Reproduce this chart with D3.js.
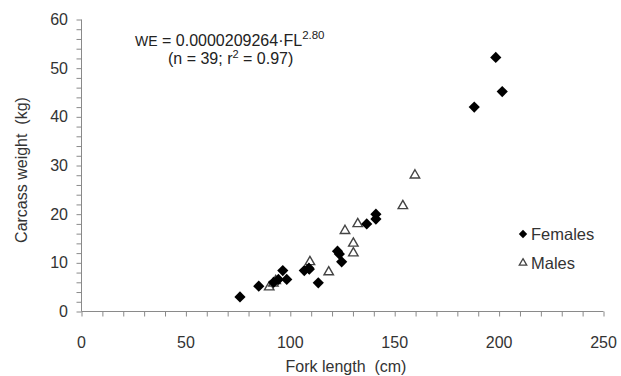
<!DOCTYPE html>
<meta charset="utf-8">
<script src="https://d3js.org/d3.v7.min.js"></script>
<style>
	body{
		margin:0;
		font-family:'Liberation Sans', Arial, sans-serif;
		background:#fff;
	}
</style>
<div id="chart"></div>
<script>
	// fork length (cm), carcass weight (kg)
	var femaleFL = [75.9,84.9,92.0,94.3,96.4,98.3,106.7,108.9,109.1,113.4,122.6,123.5,124.6,136.6,141.0,141.0,188.1,201.5,198.4]
	var femaleWE = [3.0,5.2,6.0,6.6,8.4,6.6,8.4,8.9,8.7,5.9,12.4,11.8,10.2,18.0,20.0,19.0,42.0,45.2,52.2]
	var maleFL = [89.9,91.9,93.0,109.4,118.4,126.2,130.2,130.2,132.3,153.9,159.7]
	var maleWE = [5.0,5.8,6.3,10.2,8.1,16.6,14.0,12.0,18.0,21.7,28.0]

	var xTicks = [0,50,100,150,200,250]
	var yTicks = [0,10,20,30,40,50,60]

	var w = 621
	var h = 376
	var svg = d3.select("#chart").append("svg").attr("width",w).attr("height",h)

	var x = d3.scaleLinear().domain([0,250]).range([81.5,603.5])
	var y = d3.scaleLinear().domain([0,60]).range([311.5,19.5])

	var axisColor = "#8a8a8a"
	var textColor = "#333"

	// minor ticks
	var xMinor = d3.range(0,251,10)
	var yMinor = d3.range(0,61,2)

	var xAxis = svg.append("g").attr("transform","translate(0,"+y(0)+")")
		.call(d3.axisBottom(x).tickValues(xMinor).tickSize(5).tickFormat(""))
	xAxis.selectAll("line,path").attr("stroke",axisColor)
	xAxis.select(".domain").attr("d","M"+x(0)+",0H"+x(250))

	var yAxis = svg.append("g").attr("transform","translate("+x(0)+",0)")
		.call(d3.axisLeft(y).tickValues(yMinor).tickSize(5).tickFormat(""))
	yAxis.selectAll("line,path").attr("stroke",axisColor)
	yAxis.select(".domain").attr("d","M0,"+y(0)+"V"+y(60))

	// tick labels
	svg.append("g").selectAll("text").data(xTicks).join("text")
		.attr("x",function(d){return x(d)})
		.attr("y",348)
		.attr("text-anchor","middle")
		.attr("fill",textColor)
		.style("font-size","16px")
		.text(function(d){return d})

	svg.append("g").selectAll("text").data(yTicks).join("text")
		.attr("x",68)
		.attr("y",function(d){return y(d)+5.5})
		.attr("text-anchor","end")
		.attr("fill",textColor)
		.style("font-size","16px")
		.text(function(d){return d})

	// axis titles
	svg.append("text").attr("x",346).attr("y",372).attr("text-anchor","middle")
		.attr("fill",textColor).style("font-size","16px")
		.attr("xml:space","preserve")
		.text("Fork length  (cm)")
	svg.append("text").attr("transform","translate(27,170) rotate(-90)").attr("text-anchor","middle")
		.attr("fill",textColor).style("font-size","16px")
		.attr("xml:space","preserve")
		.text("Carcass weight  (kg)")

	// equation
	var eq = svg.append("text").attr("x",135).attr("y",46).attr("fill","#222").style("font-size","16px")
	eq.append("tspan").style("font-size","14px").text("WE")
	eq.append("tspan").text(" = 0.0000209264·FL")
	eq.append("tspan").attr("dy",-7).style("font-size","11.5px").text("2.80")
	var eq2 = svg.append("text").attr("x",168).attr("y",64).attr("fill","#222").style("font-size","16px")
	eq2.append("tspan").text("(n = 39; r")
	eq2.append("tspan").attr("dy",-6).style("font-size","11px").text("2")
	eq2.append("tspan").attr("dy",6).text(" = 0.97)")

	var diamond = d3.symbol().type(d3.symbolDiamond2).size(80)
	var triangle = d3.symbol().type(d3.symbolTriangle2).size(64)

	var females = femaleFL.map(function(d,i){return [d,femaleWE[i]]})
	var males = maleFL.map(function(d,i){return [d,maleWE[i]]})

	svg.append("g").selectAll("path").data(males).join("path")
		.attr("d",triangle)
		.attr("transform",function(d){return "translate("+x(d[0])+","+y(d[1])+")"})
		.attr("fill","none")
		.attr("stroke","#444")
		.attr("stroke-width",1.4)

	svg.append("g").selectAll("path").data(females).join("path")
		.attr("d",diamond)
		.attr("transform",function(d){return "translate("+x(d[0])+","+y(d[1])+")"})
		.attr("fill","#000")

	// legend
	svg.append("path").attr("d",d3.symbol().type(d3.symbolDiamond2).size(45))
		.attr("transform","translate(523,234)").attr("fill","#000")
	svg.append("text").attr("x",531).attr("y",240).attr("fill",textColor).style("font-size","16.5px").text("Females")
	svg.append("path").attr("d",d3.symbol().type(d3.symbolTriangle2).size(40))
		.attr("transform","translate(523,263)").attr("fill","none").attr("stroke","#444").attr("stroke-width",1.3)
	svg.append("text").attr("x",531).attr("y",269).attr("fill",textColor).style("font-size","16.5px").text("Males")
</script>
